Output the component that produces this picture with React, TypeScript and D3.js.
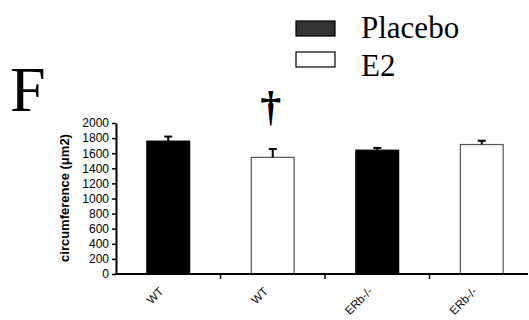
import React, { useEffect, useRef } from 'react';
import * as d3 from 'd3';

const groups = ['WT', 'WT', 'ERb-/-', 'ERb-/-'];
const treatments = ['Placebo', 'E2', 'Placebo', 'E2'];
const means = [1760, 1545, 1640, 1715];
const errors = [60, 110, 30, 50];
const yTicks = [0, 200, 400, 600, 800, 1000, 1200, 1400, 1600, 1800, 2000];
const legendItems = ['Placebo', 'E2'];

const App: React.FC = () => {
  const ref = useRef<SVGSVGElement | null>(null);

  useEffect(() => {
    const svg = d3.select(ref.current);
    svg.selectAll('*').remove();

    const left = 116;
    const bottom = 274;

    const x = d3.scaleBand<number>()
      .domain(d3.range(groups.length))
      .range([left, 534])
      .paddingInner(0.59)
      .paddingOuter(0.295);

    const y = d3.scaleLinear().domain([0, 2000]).range([bottom, 123]);

    const fill = d3.scaleOrdinal<string>().domain(legendItems).range(['#000', '#fff']);

    // panel letter
    svg.append('text')
      .attr('x', 10)
      .attr('y', 111)
      .style('font-family', '"Liberation Serif", serif')
      .style('font-size', '64px')
      .text('F');

    // bars
    svg.selectAll('.bar')
      .data(means)
      .enter().append('rect')
      .attr('x', (d, i) => x(i) as number)
      .attr('y', d => y(d))
      .attr('width', x.bandwidth())
      .attr('height', d => bottom - y(d))
      .attr('fill', (d, i) => fill(treatments[i]))
      .attr('stroke', (d, i) => treatments[i] === 'E2' ? '#555' : '#000')
      .attr('stroke-width', 1.2);

    // error bars (upper only)
    means.forEach((m, i) => {
      const cx = (x(i) as number) + x.bandwidth() / 2;
      svg.append('line')
        .attr('x1', cx).attr('x2', cx)
        .attr('y1', y(m)).attr('y2', y(m + errors[i]))
        .attr('stroke', '#000').attr('stroke-width', 2);
      svg.append('line')
        .attr('x1', cx - 4).attr('x2', cx + 4)
        .attr('y1', y(m + errors[i])).attr('y2', y(m + errors[i]))
        .attr('stroke', '#000').attr('stroke-width', 2);
    });

    // y axis
    const yAxis = svg.append('g')
      .attr('transform', `translate(${left},0)`)
      .call(d3.axisLeft(y).tickValues(yTicks).tickFormat(d3.format('d'))
        .tickSize(4).tickPadding(3).tickSizeOuter(0));
    yAxis.select('.domain').attr('stroke-width', 2);
    yAxis.selectAll('.tick line').attr('stroke-width', 1.5);
    yAxis.selectAll('.tick text')
      .style('font-family', '"Liberation Sans", Arial, sans-serif')
      .style('font-size', '12px');

    svg.append('text')
      .attr('transform', 'rotate(-90)')
      .attr('x', -198)
      .attr('y', 69)
      .attr('text-anchor', 'middle')
      .style('font-family', '"Liberation Sans", Arial, sans-serif')
      .style('font-size', '13px')
      .style('font-weight', 'bold')
      .text('circumference (\u03bcm2)');

    // x axis
    svg.append('line')
      .attr('x1', left - 1).attr('x2', 528)
      .attr('y1', bottom).attr('y2', bottom)
      .attr('stroke', '#000').attr('stroke-width', 2);

    const step = x.step();
    d3.range(1, groups.length).forEach(i => {
      const tx = (x(i) as number) - step * x.paddingInner() / 2;
      svg.append('line')
        .attr('x1', tx).attr('x2', tx)
        .attr('y1', bottom).attr('y2', bottom + 5)
        .attr('stroke', '#000').attr('stroke-width', 1.5);
    });

    groups.forEach((g, i) => {
      const cx = (x(i) as number) + x.bandwidth() / 2;
      svg.append('text')
        .attr('transform', `translate(${cx - 4},${bottom + 18}) rotate(-45)`)
        .attr('text-anchor', 'end')
        .style('font-family', '"Liberation Sans", Arial, sans-serif')
        .style('font-size', '11.5px')
        .text(g);
    });

    // significance marker
    const c2 = (x(1) as number) + x.bandwidth() / 2;
    svg.append('text')
      .attr('x', c2 - 2)
      .attr('y', 120)
      .attr('text-anchor', 'middle')
      .style('font-family', '"Liberation Serif", serif')
      .style('font-size', '42px')
      .style('font-weight', 'bold')
      .text('\u2020');

    // legend
    legendItems.forEach((t, i) => {
      const ly = 21 + i * 31;
      svg.append('rect')
        .attr('x', 296).attr('y', ly)
        .attr('width', 39).attr('height', 15)
        .attr('fill', i === 0 ? '#333' : '#fff')
        .attr('stroke', '#000').attr('stroke-width', 1.2);
      svg.append('text')
        .attr('x', 361).attr('y', ly + 17 + i * 7)
        .style('font-family', '"Liberation Serif", serif')
        .style('font-size', '31px')
        .text(t);
    });
  }, []);

  return (
    <svg ref={ref} width={529} height={320}
      style={{ position: 'absolute', left: 0, top: 0, background: '#fff' }} />
  );
};

export default App;
